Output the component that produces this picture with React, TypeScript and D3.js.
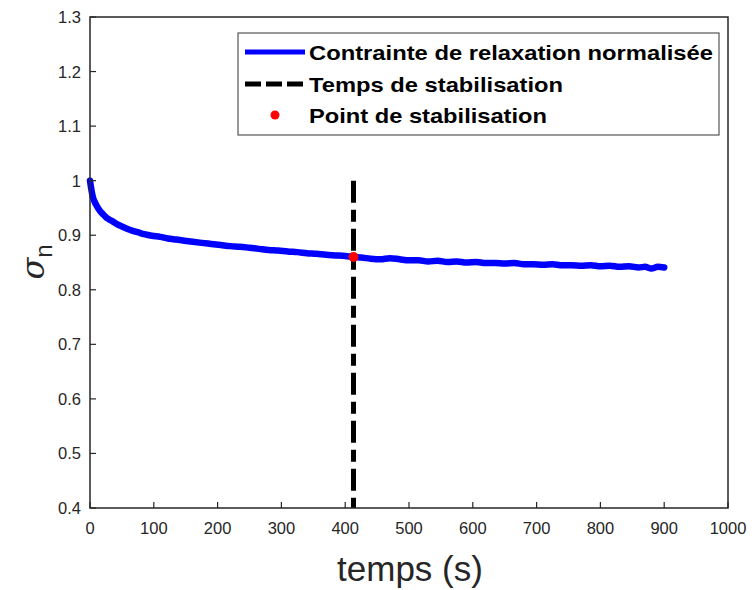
import React from "react";
import * as d3 from "d3";

const timeS: number[] = [0, 1, 2, 3, 5, 7, 10, 13, 16, 20, 25, 30, 36, 43, 50, 58, 67, 76, 85, 97, 110, 122, 135, 148, 161, 175, 190, 205, 220, 235, 250, 265, 280, 295, 310, 325, 340, 355, 370, 385, 400, 413, 425, 440, 455, 470, 485, 500, 515, 530, 545, 560, 575, 590, 605, 620, 635, 650, 665, 680, 695, 710, 725, 740, 755, 770, 785, 800, 815, 830, 845, 860, 870, 880, 890, 900];
const sigmaN: number[] = [1.0, 0.992, 0.985, 0.978, 0.968, 0.962, 0.955, 0.949, 0.944, 0.939, 0.933, 0.929, 0.925, 0.920, 0.916, 0.912, 0.908, 0.905, 0.902, 0.899, 0.897, 0.894, 0.892, 0.890, 0.888, 0.886, 0.884, 0.882, 0.880, 0.879, 0.877, 0.875, 0.873, 0.872, 0.870, 0.869, 0.867, 0.866, 0.864, 0.863, 0.862, 0.860, 0.859, 0.857, 0.856, 0.858, 0.856, 0.854, 0.854, 0.852, 0.853, 0.851, 0.852, 0.850, 0.851, 0.849, 0.849, 0.848, 0.849, 0.847, 0.847, 0.846, 0.847, 0.845, 0.845, 0.844, 0.845, 0.843, 0.844, 0.842, 0.843, 0.841, 0.842, 0.839, 0.842, 0.841];

const xTicks: number[] = [0, 100, 200, 300, 400, 500, 600, 700, 800, 900, 1000];
const yTicks: number[] = [0.4, 0.5, 0.6, 0.7, 0.8, 0.9, 1, 1.1, 1.2, 1.3];
const stabTime = 413;
const stabValue = 0.860;
const stabLineRange: number[] = [0.4, 1.0];
const legendLabels: string[] = ["Contrainte de relaxation normalisée", "Temps de stabilisation", "Point de stabilisation"];

export default function App() {
  const W = 755, H = 590;
  const left = 90, right = 728, top = 17, bottom = 508;
  const x = d3.scaleLinear().domain([0, 1000]).range([left, right]);
  const y = d3.scaleLinear().domain([0.4, 1.3]).range([bottom, top]);
  const pts: [number, number][] = timeS.map((t, i) => [t, sigmaN[i]]);
  const line = d3.line<[number, number]>().x(d => x(d[0])).y(d => y(d[1])).curve(d3.curveMonotoneX);
  const axisColor = "#262626";
  const font = "'Liberation Sans', Arial, sans-serif";
  const legendY = [52, 84, 115];
  const legendW = [404, 254, 238];

  return (
    <svg width={W} height={H} style={{ position: "absolute", left: 0, top: 0, background: "#fff" }}>
      <rect x={0} y={0} width={W} height={H} fill="#fff" />
      <path d={line(pts) || ""} fill="none" stroke="#0000ff" strokeWidth={6.5} strokeLinejoin="round" strokeLinecap="round" />
      <line x1={x(stabTime)} x2={x(stabTime)} y1={y(stabLineRange[1])} y2={y(stabLineRange[0])}
        stroke="#000" strokeWidth={5} strokeDasharray="22,7,12,7" />
      <circle cx={x(stabTime)} cy={y(stabValue)} r={5} fill="#ff0000" />
      <rect x={left} y={top} width={right - left} height={bottom - top} fill="none" stroke={axisColor} strokeWidth={1.5} />
      {xTicks.map(t => (
        <g key={"x" + t}>
          <line x1={x(t)} x2={x(t)} y1={bottom} y2={bottom - 6} stroke={axisColor} strokeWidth={1.2} />
          <text x={x(t)} y={534} textAnchor="middle" fontFamily={font} fontSize={16.5} fill={axisColor}>{t}</text>
        </g>
      ))}
      {yTicks.map(v => (
        <g key={"y" + v}>
          <line x1={left} x2={left + 6} y1={y(v)} y2={y(v)} stroke={axisColor} strokeWidth={1.2} />
          <text x={81} y={y(v) + 6} textAnchor="end" fontFamily={font} fontSize={16.5} fill={axisColor}>{d3.format("~g")(v)}</text>
        </g>
      ))}
      <text x={410} y={581} textAnchor="middle" fontFamily={font} fontSize={35} fill={axisColor}>temps (s)</text>
      <text transform={`translate(44,262) rotate(-90)`} textAnchor="middle" fontFamily={font} fill={axisColor}>
        <tspan fontSize={32} fontStyle="italic" fontFamily="'DejaVu Serif', serif">σ</tspan>
        <tspan fontSize={24} dy={8}>n</tspan>
      </text>
      <rect x={238} y={33} width={481} height={102} fill="#fff" stroke="#555" strokeWidth={1.2} />
      <line x1={245} x2={305} y1={legendY[0]} y2={legendY[0]} stroke="#0000ff" strokeWidth={5} />
      <line x1={245} x2={305} y1={legendY[1]} y2={legendY[1]} stroke="#000" strokeWidth={5} strokeDasharray="16,5" />
      <circle cx={275} cy={legendY[2]} r={4.5} fill="#ff0000" />
      {legendLabels.map((l, i) => (
        <text key={l} x={309} y={legendY[i] + 7.5} fontFamily={font} fontWeight="bold" fontSize={20.5}
          textLength={legendW[i]} lengthAdjust="spacingAndGlyphs" fill="#000">{l}</text>
      ))}
    </svg>
  );
}
